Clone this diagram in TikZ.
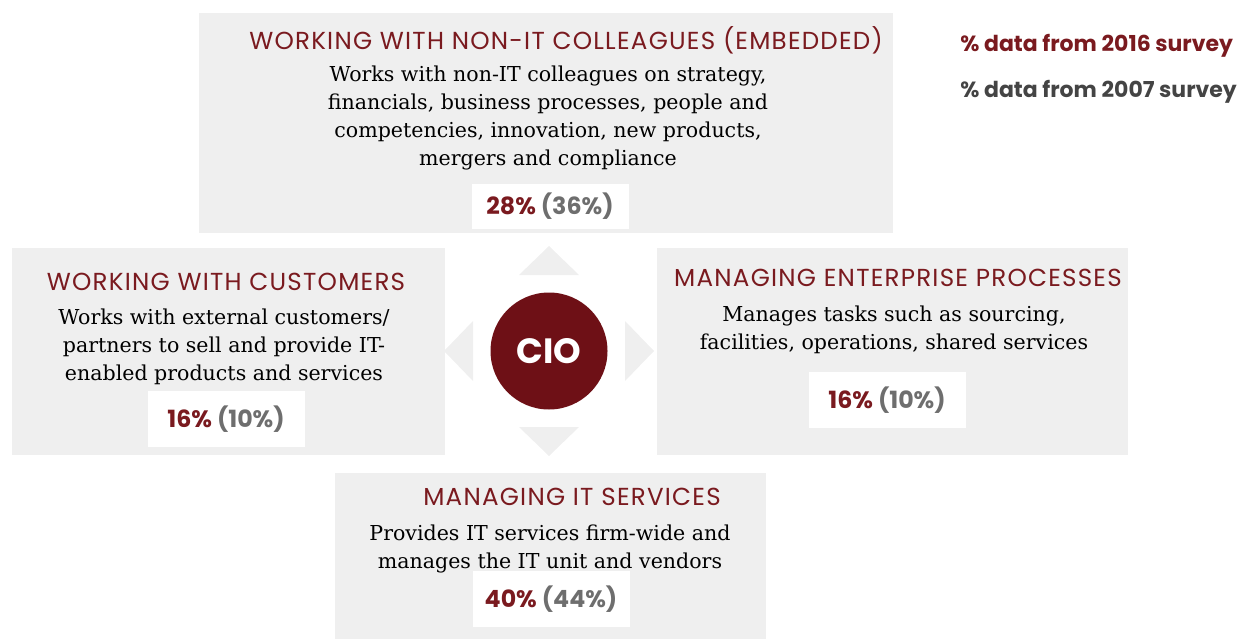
\documentclass[tikz,border=0pt]{standalone}
\usepackage{fontspec}
\setmainfont{DejaVu Serif}
\newfontfamily\headfont{Poppins}
\newfontfamily\headwide{Poppins}[LetterSpace=5]
\definecolor{cioRed}{HTML}{6E1016}
\definecolor{titleRed}{HTML}{7A1A1F}
\definecolor{panelGray}{HTML}{EFEFEF}
\definecolor{oldGray}{HTML}{6E6E6E}
\definecolor{legendGray}{HTML}{444444}
\tikzset{
  heading/.style={text=titleRed, inner sep=0pt, font=\headwide\fontsize{14}{16}\selectfont},
  body/.style={align=center, inner sep=0pt, font=\fontsize{11.7}{15.9}\selectfont},
  pctbox/.style={fill=white, inner sep=0pt, minimum width=157*0.02cm,
    font=\headfont\bfseries\fontsize{13.5}{15}\selectfont},
  legend/.style={anchor=west, inner sep=0pt, font=\headfont\bfseries\fontsize{12.5}{15}\selectfont},
}
\newcommand{\pct}[2]{\textcolor{titleRed}{#1}\ \textcolor{oldGray}{(#2)}}
\begin{document}
\begin{tikzpicture}[x=0.02cm, y=-0.02cm]
  \useasboundingbox (0,0) rectangle (1254,639);
  % grey panels
  \fill[panelGray] (199,13) rectangle (893,233);
  \fill[panelGray] (12,248) rectangle (445,455);
  \fill[panelGray] (657,248) rectangle (1128,455);
  \fill[panelGray] (335,473) rectangle (766,639);
  % centre
  \node[circle, fill=cioRed, minimum size=117*0.02cm, inner sep=0pt, text=white,
    font=\headfont\bfseries\fontsize{20}{24}\selectfont] (cio) at (549,351) {CIO};
  \foreach \a in {0,90,180,270}
    \fill[panelGray, rotate around={\a:(cio.center)}]
      ([shift={(-30,-76)}]cio.center) -- ([shift={(0,-105)}]cio.center) -- ([shift={(30,-76)}]cio.center) -- cycle;
  % top
  \node[heading] (embTitle) at (566,40) {WORKING WITH NON-IT COLLEAGUES (EMBEDDED)};
  \node[body] (embText) at (548,118) {Works with non-IT colleagues on strategy,\\
    financials, business processes, people and\\
    competencies, innovation, new products,\\
    mergers and compliance};
  \node[pctbox, minimum height=45*0.02cm] (embPct) at (550,206) {\pct{28\%}{36\%}};
  % left
  \node[heading] (custTitle) at (226,282) {WORKING WITH CUSTOMERS};
  \node[body] (custText) at (224,347) {Works with external customers/\\
    partners to sell and provide IT-\\
    enabled products and services};
  \node[pctbox, minimum height=56*0.02cm] (custPct) at (226,419) {\pct{16\%}{10\%}};
  % right
  \node[heading] (entTitle) at (898,278) {MANAGING ENTERPRISE PROCESSES};
  \node[body] (entText) at (894,330) {Manages tasks such as sourcing,\\
    facilities, operations, shared services};
  \node[pctbox, minimum height=56*0.02cm] (entPct) at (887,400) {\pct{16\%}{10\%}};
  % bottom
  \node[heading] (itTitle) at (572,497) {MANAGING IT SERVICES};
  \node[body] (itText) at (550,549) {Provides IT services firm-wide and\\
    manages the IT unit and vendors};
  \node[pctbox, minimum height=56*0.02cm] (itPct) at (551,599) {\pct{40\%}{44\%}};
  % legend
  \node[legend, text=titleRed] (newKey) at (960,46) {\% data from 2016 survey};
  \node[legend, text=legendGray] (oldKey) at (960,92) {\% data from 2007 survey};
\end{tikzpicture}
\end{document}
